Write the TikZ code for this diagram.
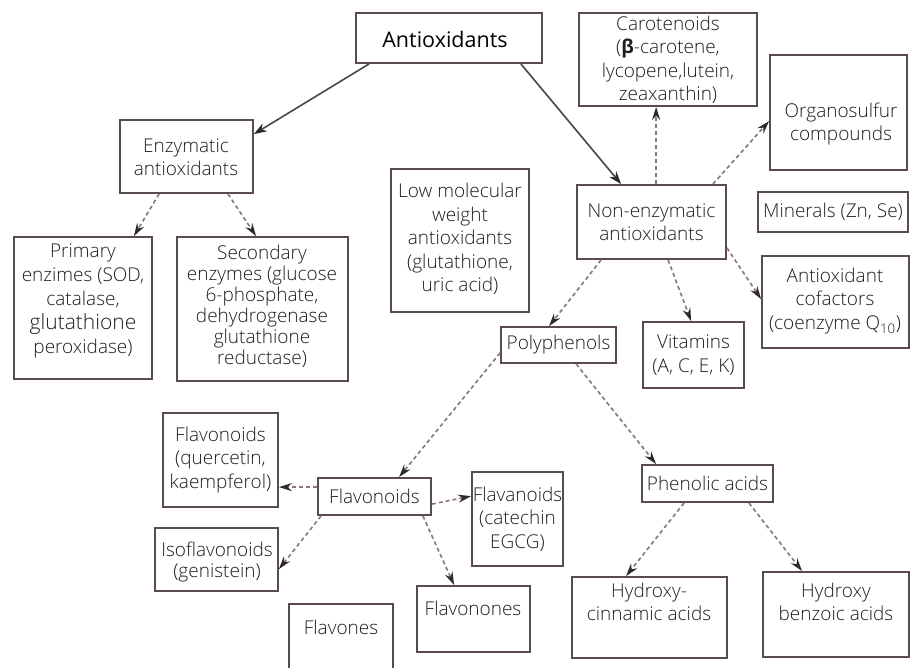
\documentclass[tikz,border=0pt]{standalone}
\usepackage{fontspec}
\IfFontExistsTF{Open Sans Light}{\setmainfont{Open Sans Light}[BoldFont={Open Sans Bold}]}{\setmainfont{Open Sans}}
\newfontfamily\headfont{Open Sans}
\usetikzlibrary{arrows.meta}
\definecolor{boxc}{HTML}{5A4C4A}
\definecolor{dashc}{HTML}{8C7674}
\definecolor{solidc}{HTML}{4A4646}
\definecolor{txtc}{HTML}{1E1E1E}
\definecolor{tipc}{HTML}{2E2A2A}
\newcommand\bx[5]{\node[box, minimum width={(#4-#2)*1pt}, minimum height={(#5-#3)*1pt}] (#1) at ({(#2+#4)/2},{(#3+#5)/2}) {};}
\tikzset{
 box/.style={draw=boxc, line width=1.8pt, inner sep=0pt, fill=white},
 txt/.style={text=txtc, font=\fontsize{19}{23.5}\selectfont, align=center, inner sep=0pt},
 solidarrow/.style={draw=solidc, line width=1.6pt, -{Stealth[length=13pt,width=9pt,color=tipc]}},
 dasharrow/.style={draw=dashc, line width=1.6pt, dash pattern=on 4pt off 3pt, -{Stealth[length=13pt,width=8pt,color=tipc]}}
}
\begin{document}
\begin{tikzpicture}[x=1pt,y=-1pt]
\useasboundingbox[fill=white] (0,0) rectangle (916,668);
% boxes
\bx{ant}{356}{13}{542}{63}
\bx{enz}{120}{120}{253}{193}
\bx{car}{579}{13}{757}{106}
\bx{org}{770}{55}{907}{170}
\bx{nen}{577}{185}{726}{259}
\bx{min}{758}{192}{908}{232}
\bx{low}{391}{169}{529}{312}
\bx{pri}{14}{237}{152}{379}
\bx{sec}{177}{237}{348}{381}
\bx{cof}{762}{256}{909}{348}
\bx{pol}{501}{327}{616}{363}
\bx{vit}{643}{322}{744}{388}
\bx{que}{163}{413}{278}{507}
\bx{fla}{318}{478}{431}{515}
\bx{cat}{472}{472}{563}{566}
\bx{iso}{155}{528}{278}{591}
\bx{fnn}{417}{586}{530}{652}
\node[box, draw=none, minimum width=102pt, minimum height=63pt] (fls) at (341,636.5) {};
\draw[draw=boxc, line width=1.8pt] (fls.south west) |- (fls.north east) -- (fls.south east);
\bx{phe}{642}{465}{773}{502}
\bx{cin}{572}{577}{727}{658}
\bx{ben}{763}{572}{909}{657}
% texts
\node[txt, font=\headfont\fontsize{21.5}{24}\selectfont, text=black] (antT) at (445,39) {Antioxidants};
\node[txt] (enzT) at (186,157) {Enzymatic\\antioxidants};
\node[txt] (carT) at (668,60) {Carotenoids\\({\bfseries β}-carotene,\\lycopene,lutein,\\zeaxanthin)};
\node[txt] (orgT) at (841,124) {Organosulfur\\compounds};
\node[txt] (nenT) at (nen.center) {Non-enzymatic\\antioxidants};
\node[txt] (minT) at (min.center) {Minerals (Zn, Se)};
\node[txt] (lowT) at (460,239) {Low molecular\\weight\\antioxidants\\(glutathione,\\uric acid)};
\node[txt, font=\fontsize{19}{24}\selectfont] (priT) at (83,301) {Primary\\enzimes (SOD,\\catalase,\\{\fontsize{21}{24}\selectfont glutathione}\\peroxidase)};
\node[txt, font=\fontsize{19}{21}\selectfont] (secT) at (262,306) {Secondary\\enzymes (glucose\\6-phosphate,\\dehydrogenase\\glutathione\\reductase)};
\node[txt] (cofT) at (835,301) {Antioxidant\\cofactors\\(coenzyme Q\textsubscript{10})};
\node[txt] (polT) at (pol.center) {Polyphenols};
\node[txt] (vitT) at (vit.center) {Vitamins\\(A, C, E, K)};
\node[txt] (queT) at (que.center) {Flavonoids\\(quercetin,\\kaempferol)};
\node[txt] (flaT) at (fla.center) {Flavonoids};
\node[txt] (catT) at (cat.center) {Flavanoids\\(catechin\\EGCG)};
\node[txt, font=\fontsize{19}{21.5}\selectfont] (isoT) at (217,562) {Isoflavonoids\\(genistein)};
\node[txt] (fnnT) at (473,608) {Flavonones};
\node[txt] (flsT) at (341,627) {Flavones};
\node[txt] (pheT) at (phe.center) {Phenolic acids};
\node[txt] (cinT) at (649,602) {Hydroxy-\\cinnamic acids};
\node[txt] (benT) at (836,602) {Hydroxy\\benzoic acids};
% connectors
\draw[solidarrow] ([xshift=14pt]ant.south west) -- ([yshift=-15pt]enz.north east);
\draw[solidarrow] ([xshift=-22pt]ant.south east) -- ([xshift=45pt]nen.north west);
\draw[dasharrow] ([xshift=80pt]nen.north west) -- ([xshift=78pt]car.south west);
\draw[dasharrow] ([xshift=-14pt]nen.north east) -- ([yshift=-67pt]org.north west);
\draw[dasharrow] ([xshift=40pt]enz.south west) -- ([xshift=-19pt]pri.north east);
\draw[dasharrow] ([xshift=-26pt]enz.south east) -- ([xshift=80pt]sec.north west);
\draw[dasharrow] ([xshift=25pt]nen.south west) -- ([xshift=49pt]pol.north west);
\draw[dasharrow] ([xshift=92pt]nen.south west) -- ([xshift=49pt]vit.north west);
\draw[dasharrow] ([yshift=12pt]nen.south east) -- ([yshift=-44pt]cof.north west);
\draw[dasharrow] ([yshift=11pt]pol.south west) -- ([xshift=82pt]fla.north west);
\draw[dasharrow] ([xshift=76pt]pol.south west) -- ([xshift=15pt]phe.north west);
\draw[dasharrow] ([yshift=-10pt]fla.north west) -- ([yshift=-75pt]que.north east);
\draw[dasharrow] ([yshift=-27pt]fla.north east) -- ([yshift=-25pt]cat.north west);
\draw[dasharrow] ([xshift=4pt]fla.south west) -- ([yshift=-42pt]iso.north east);
\draw[dasharrow] ([xshift=-9pt]fla.south east) -- ([xshift=38pt]fnn.north west);
\draw[dasharrow] ([xshift=43pt]phe.south west) -- ([xshift=55pt]cin.north west);
\draw[dasharrow] ([xshift=-25pt]phe.south east) -- ([xshift=40pt]ben.north west);
\end{tikzpicture}
\end{document}
